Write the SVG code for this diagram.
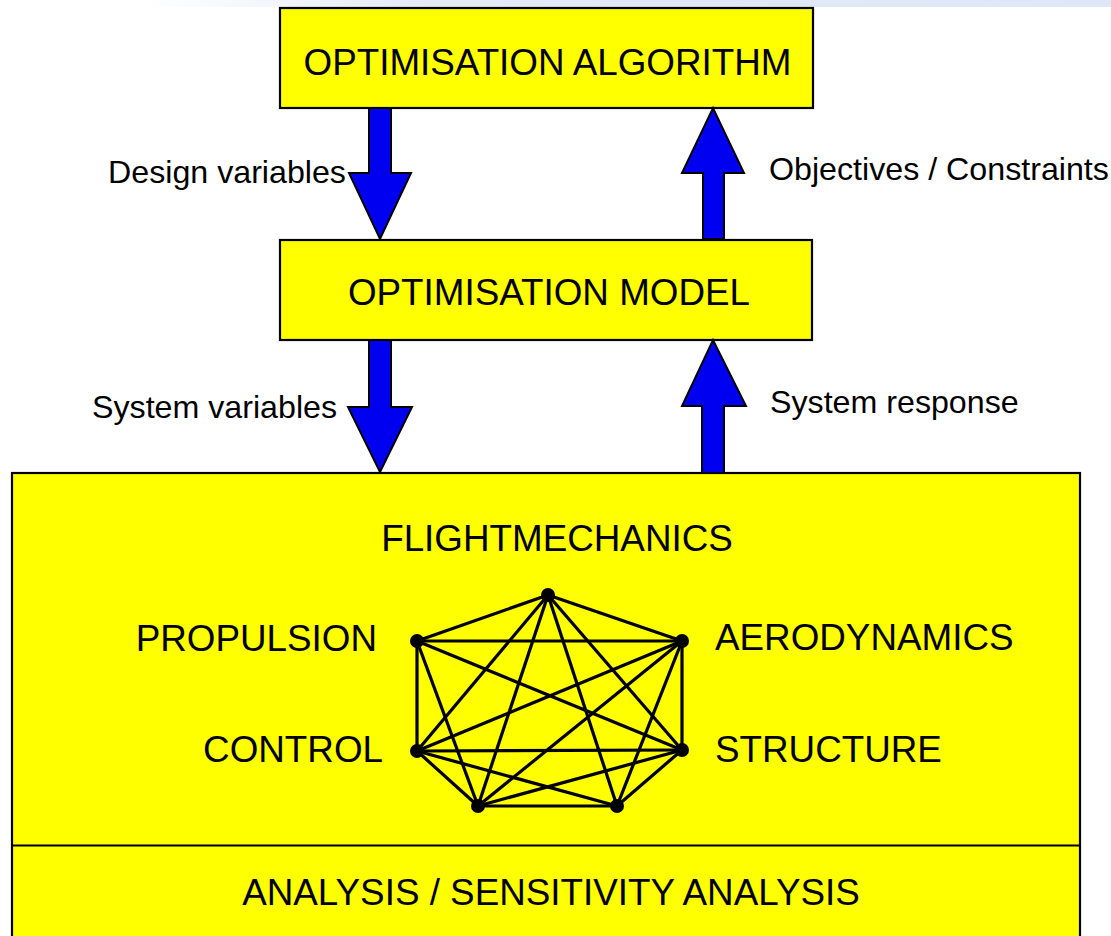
<svg xmlns="http://www.w3.org/2000/svg" width="1111" height="936" viewBox="0 0 1111 936">
<defs>
<style>
.box{fill:#ffff00;stroke:#000;stroke-width:2.2}
.cap{font-family:"Liberation Sans",Arial,Helvetica,sans-serif;font-size:36.8px;fill:#000}
.lbl{font-family:"Liberation Sans",Arial,Helvetica,sans-serif;font-size:32.2px;fill:#000}
.arrow{fill:#0000f0;stroke:#000;stroke-width:2;stroke-linejoin:miter}
.edge{stroke:#000;stroke-width:3.2;fill:none}
.dot{fill:#000}
</style>
<linearGradient id="band" x1="0" y1="0" x2="1" y2="0">
<stop offset="0" stop-color="#ffffff"/>
<stop offset="0.3" stop-color="#e4eaf6"/>
<stop offset="1" stop-color="#dde7f6"/>
</linearGradient>
</defs>
<rect x="0" y="0" width="1111" height="936" fill="#ffffff"/>
<rect x="140" y="0" width="971" height="7" fill="url(#band)"/>

<g id="optimisation-algorithm">
<rect class="box" x="280" y="8" width="533" height="100"/>
<text class="cap" x="547.5" y="75" text-anchor="middle">OPTIMISATION ALGORITHM</text>
</g>

<g id="optimisation-model">
<rect class="box" x="280" y="240" width="532" height="100"/>
<text class="cap" x="549" y="305" text-anchor="middle">OPTIMISATION MODEL</text>
</g>

<g id="analysis">
<rect class="box" x="12" y="473" width="1068" height="480"/>
<line x1="12" y1="845.5" x2="1080" y2="845.5" stroke="#000" stroke-width="2.2"/>
<text class="cap" x="557" y="551" text-anchor="middle">FLIGHTMECHANICS</text>
<text class="cap" x="377" y="651" text-anchor="end">PROPULSION</text>
<text class="cap" x="383" y="762" text-anchor="end">CONTROL</text>
<text class="cap" x="715" y="650" text-anchor="start">AERODYNAMICS</text>
<text class="cap" x="715" y="762" text-anchor="start">STRUCTURE</text>
<text class="cap" x="551" y="905" text-anchor="middle">ANALYSIS / SENSITIVITY ANALYSIS</text>
</g>

<g id="discipline-graph">
<g class="edge">
<line x1="548" y1="595" x2="417" y2="641"/>
<line x1="548" y1="595" x2="682" y2="641"/>
<line x1="548" y1="595" x2="417" y2="751"/>
<line x1="548" y1="595" x2="682" y2="750"/>
<line x1="548" y1="595" x2="478" y2="806"/>
<line x1="548" y1="595" x2="617" y2="806"/>
<line x1="417" y1="641" x2="682" y2="641"/>
<line x1="417" y1="641" x2="417" y2="751"/>
<line x1="417" y1="641" x2="682" y2="750"/>
<line x1="417" y1="641" x2="478" y2="806"/>
<line x1="682" y1="641" x2="682" y2="750"/>
<line x1="682" y1="641" x2="417" y2="751"/>
<line x1="682" y1="641" x2="478" y2="806"/>
<line x1="682" y1="641" x2="617" y2="806"/>
<line x1="417" y1="751" x2="682" y2="750"/>
<line x1="417" y1="751" x2="478" y2="806"/>
<line x1="417" y1="751" x2="617" y2="806"/>
<line x1="682" y1="750" x2="478" y2="806"/>
<line x1="682" y1="750" x2="617" y2="806"/>
<line x1="478" y1="806" x2="617" y2="806"/>
</g>
<circle class="dot" cx="548" cy="595" r="7"/>
<circle class="dot" cx="417" cy="641" r="7"/>
<circle class="dot" cx="682" cy="641" r="7"/>
<circle class="dot" cx="417" cy="751" r="7"/>
<circle class="dot" cx="682" cy="750" r="7"/>
<circle class="dot" cx="478" cy="806" r="7"/>
<circle class="dot" cx="617" cy="806" r="7"/>
</g>

<g id="connectors">
<polygon class="arrow" points="369,108 391,108 391,173 411,173 380,239 349,173 369,173"/>
<polygon class="arrow" points="703,239 724,239 724,173 744,173 713,108 682,173 703,173"/>
<polygon class="arrow" points="369,340 391,340 391,407 412,407 380,472 348,407 369,407"/>
<polygon class="arrow" points="702,473 724,473 724,406 746,406 713,340 682,406 702,406"/>
<text class="lbl" x="108" y="183">Design variables</text>
<text class="lbl" x="769" y="180">Objectives / Constraints</text>
<text class="lbl" x="92" y="418">System variables</text>
<text class="lbl" x="770" y="413">System response</text>
</g>
</svg>
